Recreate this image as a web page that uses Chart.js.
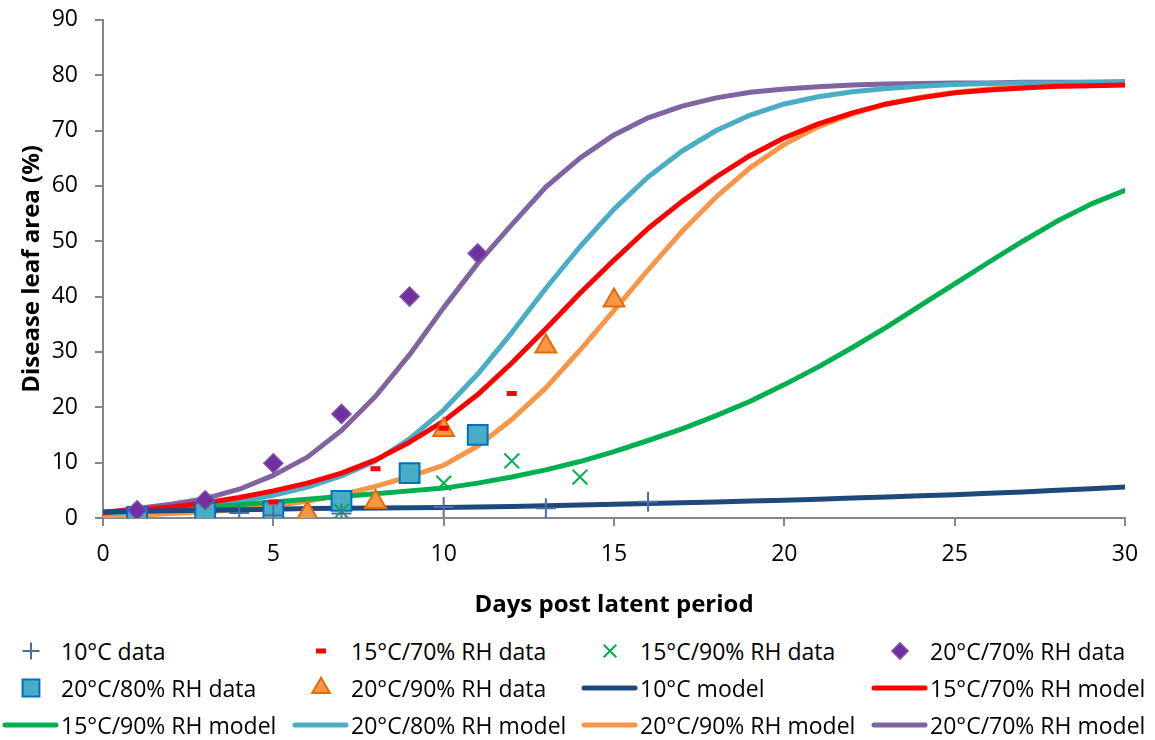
<!DOCTYPE html>
<html lang="en">
<head>
<meta charset="UTF-8">
<title>Disease leaf area</title>
<script src="https://cdn.jsdelivr.net/npm/chart.js@4.4.1/dist/chart.umd.min.js"></script>
<style>
  body { margin: 0; background: #fff; font-family: 'Open Sans', sans-serif; overflow: hidden; }
  #wrap { position: relative; width: 1155px; height: 641px; margin-top: -11px; }
  #legend { position: absolute; left: 0; top: 632px; width: 1155px;
            display: grid; grid-template-columns: 290px 289px 290px 286px; grid-auto-rows: 37px; }
  .item { display: flex; align-items: center; font-size: 23px; color: #000; white-space: nowrap; }
  .item canvas { width: 60px; height: 24px; margin-right: 1px; }
</style>
</head>
<body>
<div id="wrap"><canvas id="c"></canvas></div>
<div id="legend"></div>
<script>
// model curves, one value per day
var days = [0,1,2,3,4,5,6,7,8,9,10,11,12,13,14,15,16,17,18,19,20,21,22,23,24,25,26,27,28,29,30];
var model10   = [1.1,1.2,1.3,1.4,1.5,1.6,1.7,1.75,1.8,1.85,1.9,2.0,2.1,2.2,2.35,2.5,2.6,2.75,2.9,3.05,3.2,3.4,3.6,3.8,4.0,4.2,4.45,4.7,5.0,5.3,5.6];
var model15_70 = [1.0,1.5,2.0,2.7,3.7,4.9,6.3,8.1,10.5,13.7,17.5,22.3,28.0,34.2,40.6,46.6,52.3,57.2,61.6,65.5,68.7,71.2,73.2,74.8,75.9,76.8,77.3,77.7,78.0,78.1,78.2];
var model15_90 = [1.0,1.3,1.6,2.0,2.4,2.9,3.4,3.9,4.4,4.9,5.4,6.3,7.4,8.7,10.2,12.0,14.0,16.1,18.5,21.1,24.1,27.3,30.8,34.5,38.4,42.3,46.2,50.0,53.6,56.7,59.2];
var model20_80 = [0.8,1.1,1.5,2.1,3.0,4.1,5.6,7.6,10.3,14.3,19.5,26.0,33.5,41.5,49.0,55.8,61.6,66.3,70.0,72.8,74.8,76.1,77.0,77.6,78.0,78.3,78.5,78.6,78.6,78.7,78.7];
var model20_90 = [0.3,0.5,0.8,1.1,1.6,2.2,3.0,4.2,5.7,7.5,9.5,13.0,17.8,23.5,30.3,37.5,44.8,51.8,58.0,63.3,67.5,70.7,73.0,74.8,76.0,76.9,77.5,77.8,78.0,78.2,78.3];
var model20_70 = [1.0,1.7,2.5,3.5,5.2,7.7,11.0,15.8,22.0,29.5,38.0,46.0,53.0,59.8,65.0,69.2,72.3,74.4,75.9,76.9,77.5,77.9,78.2,78.4,78.5,78.6,78.6,78.7,78.7,78.7,78.8];

// observed data
var d10_x = [4,5,7,10,13,16];
var d10_y = [0.9,0.5,0.8,2.0,1.75,2.95];
var d15_70_x = [5,8,10,12];
var d15_70_y = [2.9,8.9,16.2,22.5];
var d15_90_x = [7,10,12,14];
var d15_90_y = [1.2,6.3,10.3,7.4];
var d20_70_x = [1,3,5,7,9,11];
var d20_70_y = [1.4,3.2,9.9,18.8,40.0,47.8];
var d20_80_x = [1,3,5,7,9,11];
var d20_80_y = [0.2,0.9,1.2,3.1,8.1,15.0];
var d20_90_x = [3,6,8,10,13,15];
var d20_90_y = [0.3,0.8,2.9,15.9,31.0,39.3];

function pts(xs, ys) { return xs.map(function (x, i) { return {x: x, y: ys[i]}; }); }

function dataSet(label, xs, ys, style, r, fill, border, bw) {
    return { label: label, data: pts(xs, ys), showLine: false, pointStyle: style, pointRadius: r,
             pointHoverRadius: r, backgroundColor: fill, borderColor: border, pointBorderWidth: bw };
}
function modelSet(label, ys, color) {
    return { label: label, data: pts(days, ys), showLine: true, borderColor: color, backgroundColor: color,
             borderWidth: 5, pointRadius: 0, tension: 0, borderCapStyle: 'round', borderJoinStyle: 'round' };
}

var datasets = [
    dataSet('10°C data', d10_x, d10_y, 'cross', 10, '#4a6fa5', '#4a6fa5', 2),
    dataSet('15°C/70% RH data', d15_70_x, d15_70_y, 'line', 5, '#ff0000', '#ff0000', 5),
    dataSet('15°C/90% RH data', d15_90_x, d15_90_y, 'crossRot', 10.5, '#00b050', '#00b050', 2),
    dataSet('20°C/70% RH data', d20_70_x, d20_70_y, 'rectRot', 9.5, '#7030a0', '#7b52a8', 1.5),
    dataSet('20°C/80% RH data', d20_80_x, d20_80_y, 'rect', 14, '#4bacc6', '#0070c0', 2),
    dataSet('20°C/90% RH data', d20_90_x, d20_90_y, 'triangle', 12, '#f79646', '#e36c09', 2),
    modelSet('10°C model', model10, '#1f497d'),
    modelSet('15°C/70% RH model', model15_70, '#ff0000'),
    modelSet('15°C/90% RH model', model15_90, '#00b050'),
    modelSet('20°C/80% RH model', model20_80, '#4bacc6'),
    modelSet('20°C/90% RH model', model20_90, '#f79646'),
    modelSet('20°C/70% RH model', model20_70, '#8064a2')
];

var tickFont = { family: 'Open Sans', size: 23 };
var titleFont = { family: 'Open Sans', size: 24, weight: 'bold' };

var ctx = document.getElementById('c').getContext('2d');
window.chart = new Chart(ctx, {
    type: 'scatter',
    data: { datasets: datasets },
    options: {
        responsive: true,
        maintainAspectRatio: false,
        animation: false,
        layout: { padding: { top: 6, right: 30, left: 14, bottom: 0 } },
        plugins: { legend: { display: false }, tooltip: { enabled: false } },
        scales: {
            x: {
                type: 'linear', min: 0, max: 30,
                ticks: { stepSize: 5, color: '#000', font: tickFont, padding: 15 },
                grid: { drawOnChartArea: false, tickLength: 8, color: '#868686', lineWidth: 2 },
                border: { color: '#868686', width: 2 },
                title: { display: true, text: 'Days post latent period', color: '#000', font: titleFont,
                         padding: { top: 4, bottom: 10 } },
                afterFit: function (s) { s.height = 112; }
            },
            y: {
                min: 0, max: 90,
                ticks: { stepSize: 10, color: '#000', font: tickFont, padding: 17 },
                grid: { drawOnChartArea: false, tickLength: 8, color: '#868686', lineWidth: 2 },
                border: { color: '#868686', width: 2 },
                title: { display: true, text: 'Disease leaf area (%)', color: '#000', font: titleFont },
                afterFit: function (s) { s.width = 89; }
            }
        }
    }
});

// legend laid out like the spreadsheet one: 4 columns, 3 rows
var legend = document.getElementById('legend');
datasets.forEach(function (ds) {
    var item = document.createElement('div');
    item.className = 'item';
    var cv = document.createElement('canvas');
    cv.width = 60; cv.height = 24;
    var g = cv.getContext('2d');
    if (ds.showLine) {
        g.strokeStyle = ds.borderColor; g.lineWidth = 5; g.lineCap = 'round';
        g.beginPath(); g.moveTo(5, 12); g.lineTo(56, 12); g.stroke();
    } else {
        g.fillStyle = ds.backgroundColor; g.strokeStyle = ds.borderColor; g.lineWidth = ds.pointBorderWidth;
        var r = ds.pointStyle === 'line' ? ds.pointRadius : ds.pointRadius * 0.85;
        Chart.helpers.drawPoint(g, { pointStyle: ds.pointStyle, radius: r, rotation: 0,
                                     borderWidth: ds.pointBorderWidth }, 31, 12);
    }
    item.appendChild(cv);
    var t = document.createElement('span');
    t.textContent = ds.label;
    item.appendChild(t);
    legend.appendChild(item);
});
</script>
</body>
</html>
